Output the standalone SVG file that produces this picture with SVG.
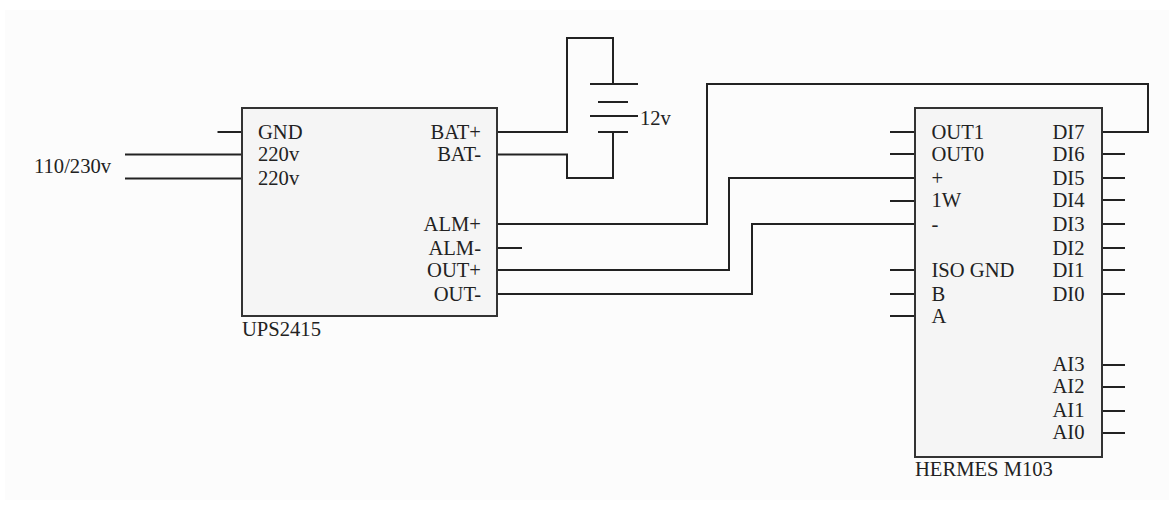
<svg xmlns="http://www.w3.org/2000/svg" width="1174" height="505" viewBox="0 0 1174 505">
<style>
.box{fill:#f5f5f5;stroke:#333;stroke-width:2}
.w{fill:none;stroke:#222;stroke-width:2}
text{font-family:"Liberation Serif","Times New Roman",serif;font-size:20.6px;fill:#222}
.r{text-anchor:end}
</style>
<rect width="1174" height="505" fill="#fff"/>
<rect x="5" y="10" width="1164" height="490" fill="#fcfcfc"/>
<g id="connectors" class="w">
<path d="M217.500 132H242M125 154.500H242M125 178.500H242"/>
<path d="M497 132H567V38H613V84"/>
<path d="M497 154.500H567V178H613V132"/>
<path d="M590 84H638M598 102H628M590 116H638M598 132H628"/>
<path d="M497 224H707V84H1148V132H1102"/>
<path d="M497 248H522"/>
<path d="M497 270H729V178H915"/>
<path d="M497 294H752V224H915"/>
<path d="M890 132H915M890 154H915M890 201H915M890 270H915M890 294H915M890 316H915"/>
<path d="M1102 154H1125M1102 178H1125M1102 200H1125M1102 224H1125M1102 248H1125M1102 270H1125M1102 294H1125M1102 365H1125M1102 387H1125M1102 411H1125M1102 433H1125"/>
</g>
<g id="ups2415">
<rect class="box" x="242" y="108" width="255" height="208"/>
<text x="258" y="139">GND</text>
<text x="258" y="161">220v</text>
<text x="258" y="185">220v</text>
<text class="r" x="481" y="139">BAT+</text>
<text class="r" x="481" y="161">BAT-</text>
<text class="r" x="481" y="231">ALM+</text>
<text class="r" x="481" y="255">ALM-</text>
<text class="r" x="481" y="277">OUT+</text>
<text class="r" x="481" y="301">OUT-</text>
<text x="242" y="336">UPS2415</text>
</g>
<g id="hermes-m103">
<rect class="box" x="915" y="108" width="187" height="349"/>
<text x="931.500" y="139">OUT1</text>
<text x="931.500" y="161">OUT0</text>
<text x="931.500" y="185">+</text>
<text x="931.500" y="207">1W</text>
<text x="931.500" y="231">-</text>
<text x="931.500" y="277">ISO GND</text>
<text x="931.500" y="301">B</text>
<text x="931.500" y="323">A</text>
<text x="1052.500" y="139">DI7</text>
<text x="1052.500" y="161">DI6</text>
<text x="1052.500" y="185">DI5</text>
<text x="1052.500" y="207">DI4</text>
<text x="1052.500" y="231">DI3</text>
<text x="1052.500" y="255">DI2</text>
<text x="1052.500" y="277">DI1</text>
<text x="1052.500" y="301">DI0</text>
<text x="1052.500" y="371">AI3</text>
<text x="1052.500" y="393">AI2</text>
<text x="1052.500" y="417">AI1</text>
<text x="1052.500" y="439">AI0</text>
<text x="915" y="476">HERMES M103</text>
</g>
<g id="battery"><text x="640" y="125">12v</text></g>
<g id="mains"><text x="34" y="173">110/230v</text></g>
</svg>
